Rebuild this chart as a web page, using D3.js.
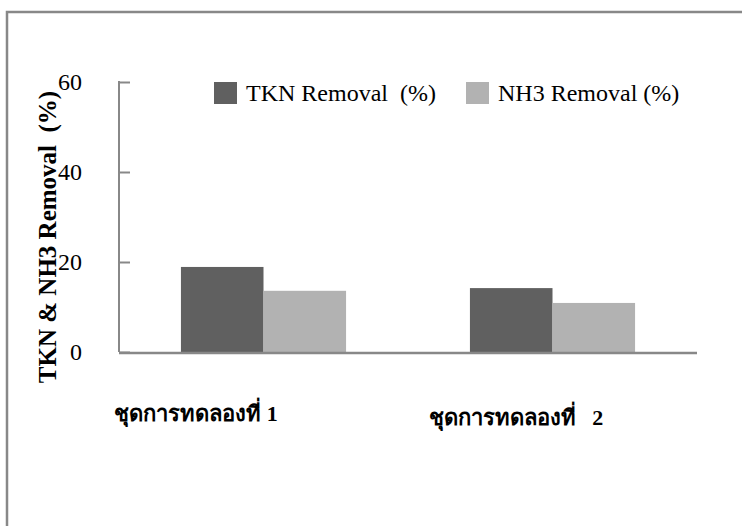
<!DOCTYPE html>
<html>
<head>
<meta charset="utf-8">
<style>
  body { margin: 0; background: #fff; }
  svg text { font-family: "Liberation Serif", "Times New Roman", serif; fill: #000; }
  .axis line { stroke: #888; stroke-width: 2; }
  .axis text { font-size: 24px; }
  .cat-label { font-size: 22px; font-weight: bold; }
  .y-title { font-size: 25px; font-weight: bold; }
  .legend text { font-size: 24px; }
</style>
</head>
<body>
<svg width="742" height="526"></svg>
<script src="https://cdnjs.cloudflare.com/ajax/libs/d3/7.8.5/d3.min.js"></script>
<script>
// data
var categories = ["ชุดการทดลองที่ 1", "ชุดการทดลองที่   2"];
var seriesNames = ["TKN Removal  (%)", "NH3 Removal (%)"];
var tknValues = [18.9, 14.2];
var nh3Values = [13.6, 10.9];
var yTicks = [0, 20, 40, 60];
var colors = ["#606060", "#b2b2b2"];

var svg = d3.select("svg");

// outer frame (runs off the right/bottom edge)
svg.append("rect")
    .attr("x", 7).attr("y", 12)
    .attr("width", 760).attr("height", 540)
    .attr("fill", "none")
    .attr("stroke", "#888")
    .attr("stroke-width", 2.5);

var plotL = 119, plotR = 697, plotT = 82, plotB = 352;

var y = d3.scaleLinear().domain([0, 60]).range([plotB, plotT]);
var x0 = d3.scaleBand().domain(categories).range([plotL, plotR]).padding(0);
var x1 = d3.scaleBand().domain(seriesNames).range([0, x0.bandwidth()])
    .paddingInner(0).paddingOuter(0.75);

var rows = categories.map(function(c, i) {
  return {cat: c, vals: [tknValues[i], nh3Values[i]]};
});

// y axis, ticks pointing inward
var yAxis = svg.append("g")
    .attr("class", "axis")
    .attr("transform", "translate(" + plotL + ",0)")
    .call(d3.axisLeft(y).tickValues(yTicks).tickSize(-11).tickSizeOuter(0).tickPadding(37));
yAxis.select(".domain").remove();
svg.append("line")
    .attr("x1", plotL).attr("x2", plotL)
    .attr("y1", plotT - 1).attr("y2", plotB)
    .attr("stroke", "#888").attr("stroke-width", 2);

// bars
var groups = svg.selectAll(".grp")
    .data(rows)
  .enter().append("g")
    .attr("class", "grp")
    .attr("transform", function(d) { return "translate(" + x0(d.cat) + ",0)"; });

groups.selectAll("rect")
    .data(function(d) { return d.vals.map(function(v, j) { return {name: seriesNames[j], v: v, j: j}; }); })
  .enter().append("rect")
    .attr("x", function(d) { return x1(d.name); })
    .attr("y", function(d) { return y(d.v); })
    .attr("width", x1.bandwidth())
    .attr("height", function(d) { return y(0) - y(d.v); })
    .attr("fill", function(d) { return colors[d.j]; });

// baseline
svg.append("line")
    .attr("x1", plotL).attr("x2", plotR)
    .attr("y1", plotB + 1).attr("y2", plotB + 1)
    .attr("stroke", "#888").attr("stroke-width", 2.5);

// category labels
var catX = [196, 516], catY = [421, 425];
svg.selectAll(".cat-label")
    .data(categories)
  .enter().append("text")
    .attr("class", "cat-label")
    .attr("x", function(d, i) { return catX[i]; })
    .attr("y", function(d, i) { return catY[i]; })
    .attr("text-anchor", "middle")
    .style("white-space", "pre")
    .text(function(d) { return d; });

// y axis title
svg.append("text")
    .attr("class", "y-title")
    .attr("transform", "translate(56,237) rotate(-90)")
    .attr("text-anchor", "middle")
    .style("white-space", "pre")
    .text("TKN & NH3 Removal  (%)");

// legend
var legX = [214, 466];
var legend = svg.selectAll(".legend")
    .data(seriesNames)
  .enter().append("g")
    .attr("class", "legend")
    .attr("transform", function(d, i) { return "translate(" + legX[i] + ",82)"; });
legend.append("rect")
    .attr("width", 23).attr("height", 22)
    .attr("fill", function(d, i) { return colors[i]; });
legend.append("text")
    .attr("x", 32).attr("y", 19)
    .style("white-space", "pre")
    .text(function(d) { return d; });
</script>
</body>
</html>
